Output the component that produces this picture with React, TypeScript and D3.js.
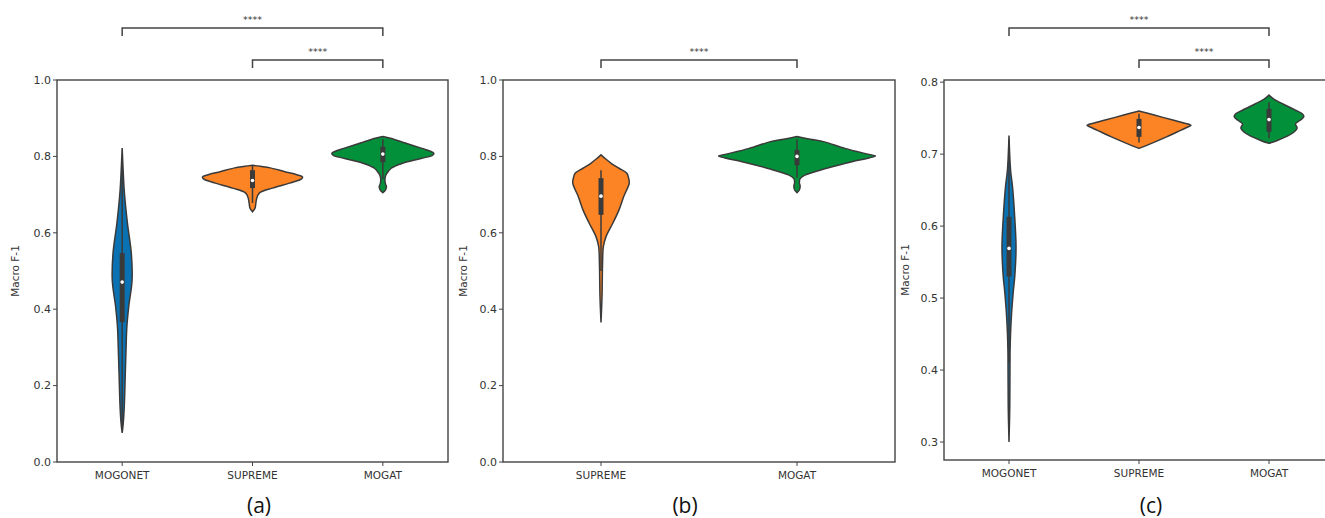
import React from 'react';
import * as d3 from 'd3';

// categories per panel
const catsA = ['MOGONET', 'SUPREME', 'MOGAT'];
const catsB = ['SUPREME', 'MOGAT'];
const catsC = ['MOGONET', 'SUPREME', 'MOGAT'];

const ticksAB = [0, 0.2, 0.4, 0.6, 0.8, 1.0];
const ticksC = [0.3, 0.4, 0.5, 0.6, 0.7, 0.8];

// violin outlines: [Macro F-1, relative density]
const violinA = {
  MOGONET: [[0.076, 0], [0.1, 0.02], [0.144, 0.04], [0.233, 0.06], [0.3, 0.075], [0.354, 0.09], [0.406, 0.125], [0.476, 0.19], [0.547, 0.175], [0.626, 0.1], [0.71, 0.04], [0.76, 0.02], [0.822, 0]],
  SUPREME: [[0.655, 0], [0.665, 0.05], [0.673, 0.06], [0.69, 0.08], [0.704, 0.13], [0.717, 0.38], [0.73, 0.71], [0.741, 0.94], [0.746, 0.96], [0.752, 0.85], [0.76, 0.62], [0.77, 0.34], [0.774, 0.15], [0.777, 0]],
  MOGAT: [[0.705, 0], [0.712, 0.05], [0.721, 0.07], [0.728, 0.05], [0.738, 0.04], [0.748, 0.05], [0.756, 0.08], [0.769, 0.16], [0.782, 0.38], [0.795, 0.75], [0.803, 0.95], [0.808, 0.98], [0.814, 0.9], [0.821, 0.75], [0.835, 0.43], [0.845, 0.21], [0.852, 0]],
};
const violinB = {
  SUPREME: [[0.365, 0], [0.433, 0.013], [0.521, 0.02], [0.564, 0.03], [0.59, 0.064], [0.625, 0.15], [0.66, 0.23], [0.695, 0.29], [0.73, 0.36], [0.745, 0.35], [0.756, 0.33], [0.769, 0.23], [0.782, 0.13], [0.795, 0.05], [0.804, 0]],
  MOGAT: [[0.705, 0], [0.712, 0.03], [0.722, 0.04], [0.732, 0.03], [0.742, 0.04], [0.751, 0.1], [0.769, 0.38], [0.786, 0.7], [0.796, 0.92], [0.801, 1.0], [0.806, 0.9], [0.821, 0.61], [0.838, 0.35], [0.845, 0.17], [0.852, 0]],
};
const violinC = {
  MOGONET: [[0.3, 0], [0.35, 0.015], [0.424, 0.02], [0.451, 0.03], [0.479, 0.05], [0.507, 0.08], [0.534, 0.115], [0.571, 0.135], [0.618, 0.105], [0.655, 0.067], [0.678, 0.03], [0.726, 0]],
  SUPREME: [[0.708, 0], [0.715, 0.24], [0.724, 0.53], [0.733, 0.8], [0.738, 0.95], [0.74, 1.0], [0.743, 0.88], [0.747, 0.67], [0.754, 0.31], [0.76, 0]],
  MOGAT: [[0.715, 0], [0.719, 0.16], [0.729, 0.45], [0.736, 0.54], [0.742, 0.51], [0.747, 0.6], [0.752, 0.67], [0.756, 0.64], [0.761, 0.51], [0.77, 0.26], [0.776, 0.1], [0.782, 0]],
};

// inner box: [whisker low, q1, median, q3, whisker high]
const boxA = {
  MOGONET: [0.09, 0.366, 0.471, 0.547, 0.8],
  SUPREME: [0.678, 0.717, 0.737, 0.764, 0.777],
  MOGAT: [0.74, 0.785, 0.806, 0.825, 0.845],
};
const boxB = {
  SUPREME: [0.5, 0.647, 0.696, 0.743, 0.764],
  MOGAT: [0.745, 0.777, 0.8, 0.817, 0.845],
};
const boxC = {
  MOGONET: [0.41, 0.53, 0.569, 0.613, 0.72],
  SUPREME: [0.716, 0.724, 0.737, 0.749, 0.756],
  MOGAT: [0.722, 0.731, 0.748, 0.763, 0.772],
};

// significance brackets: [from, to, label, level]
const sigA = [['MOGONET', 'MOGAT', '****', 1], ['SUPREME', 'MOGAT', '****', 0]];
const sigB = [['SUPREME', 'MOGAT', '****', 0]];
const sigC = [['MOGONET', 'MOGAT', '****', 1], ['SUPREME', 'MOGAT', '****', 0]];

const colors = { MOGONET: '#0a72b2', SUPREME: '#fd8424', MOGAT: '#03903a' };
const edge = '#3a3a3a';

const panels = [
  { cats: catsA, violins: violinA, boxes: boxA, sig: sigA, ticks: ticksAB, domain: [0, 1], x0: 57, x1: 448, yBottom: 462, label: '(a)', labelX: 259, yLabelX: 15 },
  { cats: catsB, violins: violinB, boxes: boxB, sig: sigB, ticks: ticksAB, domain: [0, 1], x0: 503, x1: 895, yBottom: 462, label: '(b)', labelX: 685, yLabelX: 463 },
  { cats: catsC, violins: violinC, boxes: boxC, sig: sigC, ticks: ticksC, domain: [0.275, 0.803], x0: 944, x1: 1334, yBottom: 460, label: '(c)', labelX: 1151, yLabelX: 905 },
];

const yTop = 80;

const Panel = ({ p }: { p: any }) => {
  const x = d3.scaleBand().domain(p.cats).range([p.x0, p.x1]).padding(0);
  const y = d3.scaleLinear().domain(p.domain).range([p.yBottom, yTop]);
  const half = x.bandwidth() * 0.4;
  const w = d3.scaleLinear().domain([0, 1]).range([0, half]);
  const levelY = [60, 28];
  const centre = (c: string) => (x(c) as number) + x.bandwidth() / 2;

  return (
    <g>
      {p.cats.map((c: string) => {
        const cx = centre(c);
        const area = d3.area<number[]>()
          .curve(d3.curveCatmullRom)
          .y(d => y(d[0]))
          .x0(d => cx - w(d[1]))
          .x1(d => cx + w(d[1]));
        const b = p.boxes[c];
        return (
          <g key={c}>
            <path d={area(p.violins[c]) as string} fill={colors[c as keyof typeof colors]} stroke={edge} strokeWidth={1.5} />
            <line x1={cx} x2={cx} y1={y(b[0])} y2={y(b[4])} stroke={edge} strokeWidth={1.5} />
            <line x1={cx} x2={cx} y1={y(b[1])} y2={y(b[3])} stroke={edge} strokeWidth={5} />
            <circle cx={cx} cy={y(b[2])} r={1.8} fill="#fff" />
          </g>
        );
      })}

      {/* frame */}
      <rect x={p.x0} y={yTop} width={p.x1 - p.x0} height={p.yBottom - yTop} fill="none" stroke="#444" strokeWidth={1.4} />

      {/* y ticks */}
      {p.ticks.map((t: number) => (
        <g key={t} transform={`translate(${p.x0},${y(t)})`}>
          <line x1={-4} x2={0} stroke="#444" strokeWidth={1} />
          <text x={-6} dy="0.35em" textAnchor="end" fontSize={11} fill="#333" fontFamily="DejaVu Sans">{d3.format('.1f')(t)}</text>
        </g>
      ))}

      {/* x ticks */}
      {p.cats.map((c: string) => (
        <g key={c} transform={`translate(${centre(c)},${p.yBottom})`}>
          <line y1={0} y2={4} stroke="#444" strokeWidth={1} />
          <text y={17} textAnchor="middle" fontSize={10.5} fill="#333" fontFamily="DejaVu Sans">{c}</text>
        </g>
      ))}

      <text transform={`translate(${p.yLabelX},${(yTop + p.yBottom) / 2}) rotate(-90)`} textAnchor="middle" dy="0.35em" fontSize={10.5} fill="#333" fontFamily="DejaVu Sans">Macro F-1</text>

      {/* significance brackets */}
      {p.sig.map((s: any[], i: number) => {
        const xa = centre(s[0]);
        const xb = centre(s[1]);
        const by = levelY[s[3]];
        return (
          <g key={i}>
            <path d={`M${xa},${by + 8}V${by}H${xb}V${by + 8}`} fill="none" stroke="#444" strokeWidth={1.5} />
            <text x={(xa + xb) / 2} y={by - 5} textAnchor="middle" fontSize={9.5} fill="#333" fontFamily="DejaVu Sans">{s[2]}</text>
          </g>
        );
      })}

      <text x={p.labelX} y={513} textAnchor="middle" fontSize={21} fill="#111" fontFamily="Open Sans">{p.label}</text>
    </g>
  );
};

export default function App() {
  return (
    <div style={{ position: 'fixed', left: 0, top: 0 }}>
      <svg width={1325} height={518} style={{ display: 'block', background: '#fff' }}>
        {panels.map((p, i) => <Panel key={i} p={p} />)}
      </svg>
    </div>
  );
}
